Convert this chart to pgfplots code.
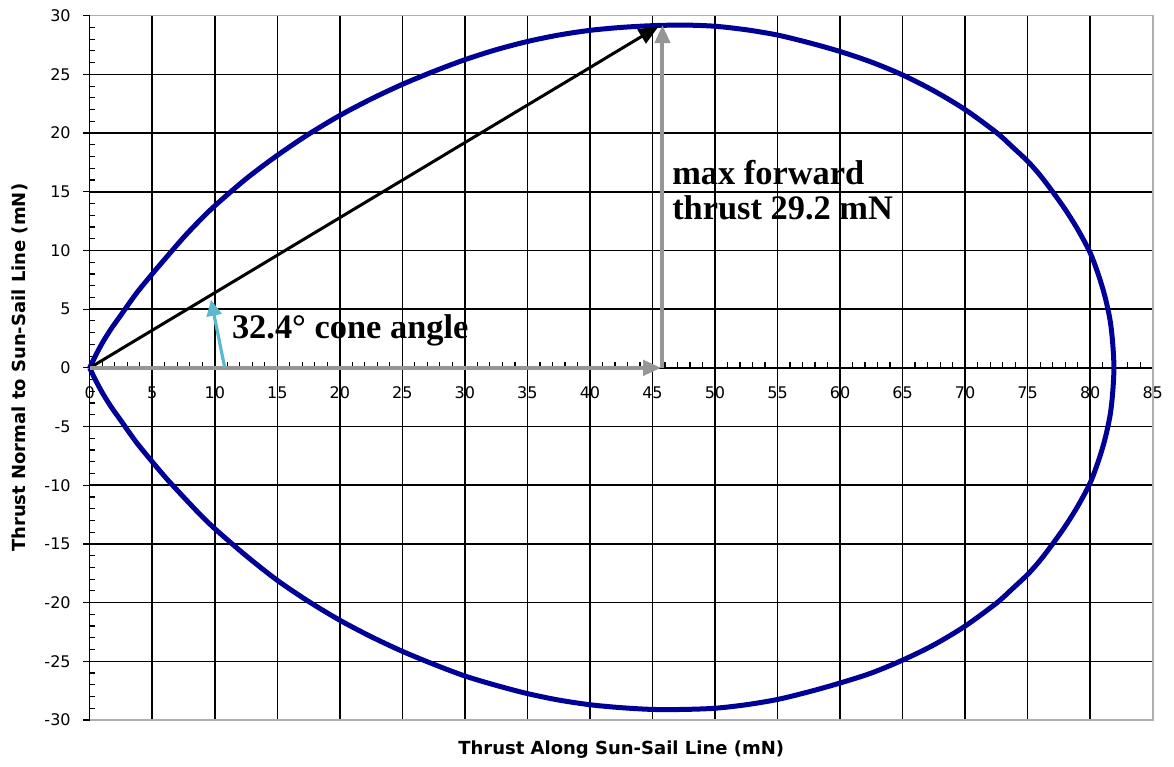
\documentclass[border=0pt]{standalone}
\usepackage{fontspec}
\setmainfont{Liberation Serif}
\newfontfamily\gen{DejaVu Sans}
\usepackage{pgfplots}
\pgfplotsset{compat=1.18}
\usetikzlibrary{arrows.meta}
\definecolor{curveblue}{RGB}{0,0,150}
\definecolor{arrgray}{RGB}{150,150,150}
\definecolor{cyanarr}{RGB}{90,185,205}
\definecolor{bordergray}{RGB}{175,175,175}
\begin{document}
\begin{tikzpicture}
\begin{axis}[
 scale only axis, width=531.5pt, height=352.15pt,
 xmin=0, xmax=85, ymin=-30, ymax=30,
 axis x line=middle, axis y line=box, ytick pos=left,
 axis line style={-, black, line width=0.6pt},
 xtick={0,5,...,85}, ytick={-30,-25,...,30},
 minor x tick num=4, minor y tick num=4,
 tick align=inside,
 major tick length=6pt, minor tick length=2.7pt,
 tick style={black, line width=0.6pt},
 major y tick style={xshift=-3.2pt},
 major x tick style={yshift=-3pt},
 grid=major,
 major grid style={black, line width=0.75pt},
 hide obscured x ticks=false, hide obscured y ticks=false,
 /pgf/number format/assume math mode=true,
 ticklabel style={font=\gen\fontsize{8}{9}\selectfont},
 xticklabel style={yshift=-6pt},
 yticklabel style={xshift=-6pt},
 clip=false,
]
\addplot[curveblue, line width=2.5pt, smooth, tension=0.5] coordinates {
(0,0) (0.4,0.9) (1,2.1) (1.7,3.3) (2.5,4.5) (3.7,6.3) (5,8.0) (6.2,9.5) (7.5,11.1) (8.7,12.45) (10,13.8) (12.5,16.1) (15,18.1) (17.5,19.9) (20,21.5) (22.5,22.9) (25,24.15) (27.5,25.25) (30,26.25) (32.5,27.1) (35,27.8) (37.5,28.35) (40,28.75) (42.5,29.0) (45,29.15) (47.5,29.2) (50,29.1) (52.5,28.8) (55,28.35) (57.5,27.7) (60,26.95) (62.5,26.05) (65,24.95) (67.5,23.6) (70,22.0) (72.5,20.05) (73.75,18.85) (75,17.6) (76,16.4) (77,15.0) (78,13.5) (79,11.8) (80,9.8) (80.7,7.8) (81.2,6.0) (81.6,4.0) (81.8,2.1) (81.9,0)
(81.8,-2.1) (81.6,-4.0) (81.2,-6.0) (80.7,-7.8) (80,-9.8) (79,-11.8) (78,-13.5) (77,-15.0) (76,-16.4) (75,-17.6) (73.75,-18.85) (72.5,-20.05) (70,-22.0) (67.5,-23.6) (65,-24.9) (62.5,-26.0) (60,-26.85) (57.5,-27.6) (55,-28.25) (52.5,-28.7) (50,-29.0) (47.5,-29.1) (45,-29.1) (42.5,-28.95) (40,-28.7) (37.5,-28.3) (35,-27.75) (32.5,-27.05) (30,-26.25) (27.5,-25.25) (25,-24.15) (22.5,-22.9) (20,-21.5) (17.5,-19.9) (15,-18.1) (12.5,-16.0) (10,-13.7) (8.7,-12.35) (7.5,-11.0) (6.2,-9.5) (5,-8.0) (3.7,-6.3) (2.5,-4.5) (1.7,-3.3) (1,-2.1) (0.4,-0.9) (0,0)
};
\addplot[black, line width=1.5pt, -{Triangle[length=10pt,width=8pt]}] coordinates {(0,0) (45.5,29.1)};
\addplot[arrgray, line width=2pt, -{Triangle[length=9pt,width=7.5pt]}] coordinates {(0,0) (45.7,0)};
\addplot[arrgray, line width=2pt, -{Triangle[length=9pt,width=7.5pt]}] coordinates {(45.8,0) (45.8,29.2)};
\addplot[cyanarr, line width=1.6pt, -{Triangle[length=8pt,width=7.5pt]}] coordinates {(10.8,0) (9.7,5.8)};
\draw[bordergray, line width=0.8pt] (rel axis cs:0,1) -- (rel axis cs:1,1) -- (rel axis cs:1,0) -- (rel axis cs:0,0);
\node[anchor=base west, inner sep=0pt, font=\bfseries\fontsize{17.2}{17.2}\selectfont] at (axis cs:46.55,15.6) {max forward};
\node[anchor=base west, inner sep=0pt, font=\bfseries\fontsize{17.2}{17.2}\selectfont] at (axis cs:46.55,12.6) {thrust 29.2 mN};
\node[anchor=base west, inner sep=0pt, font=\bfseries\fontsize{17.2}{17.2}\selectfont] at (axis cs:11.35,2.47) {32.4° cone angle};
\node[font=\gen\bfseries\fontsize{9}{10}\selectfont] at (rel axis cs:0.5,-0.0426) {Thrust Along Sun-Sail Line (mN)};
\node[rotate=90, font=\gen\bfseries\fontsize{9}{10}\selectfont] at (rel axis cs:-0.0656,0.5) {Thrust Normal to Sun-Sail Line (mN)};
\coordinate (bbl) at (rel axis cs:-0.08438,-0.06673);
\coordinate (btr) at (rel axis cs:1.02004,1.02229);
\end{axis}
\pgfresetboundingbox
\path (bbl) rectangle (btr);
\end{tikzpicture}
\end{document}
